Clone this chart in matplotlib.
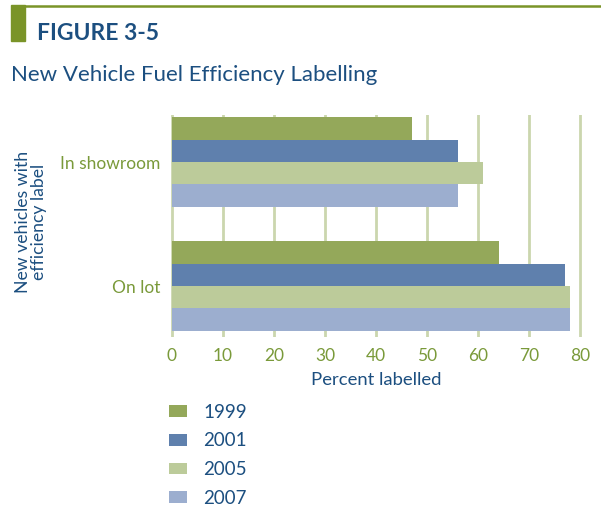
import matplotlib.pyplot as plt
from matplotlib.patches import Rectangle
from matplotlib.lines import Line2D
import numpy as np

categories = ['In showroom', 'On lot']
years = ['1999', '2001', '2005', '2007']
pct_1999 = [47, 64]
pct_2001 = [56, 77]
pct_2005 = [61, 78]
pct_2007 = [56, 78]
xticks = [0, 10, 20, 30, 40, 50, 60, 70, 80]

colors = ['#94a85a', '#5f80ad', '#bccb9a', '#9caecf']
navy = '#1c4f80'
olive = '#7a9a3a'
grid_c = '#cbd6ae'

W, H = 601, 513
fig = plt.figure(figsize=(W / 100, H / 100), dpi=100)

# header: green tab + rule
fig.patches.append(Rectangle((11 / W, 1 - 41 / H), 14 / W, 36 / H,
                             transform=fig.transFigure, color='#7a9428', zorder=0))
fig.lines.append(Line2D([25 / W, 1], [1 - 6 / H, 1 - 6 / H],
                        transform=fig.transFigure, color='#7a9428', lw=1.8))
fig.text(37 / W, 1 - 34 / H, 'FIGURE 3-5', color=navy, fontsize=16.5,
         fontweight='bold', family='Lato', va='center', ha='left')
fig.text(11 / W, 1 - 75 / H, 'New Vehicle Fuel Efficiency Labelling', color=navy,
         fontsize=16, family='Lato', va='center', ha='left')

left, right, top, bottom = 170, 582, 115, 337
ax = fig.add_axes([left / W, 1 - bottom / H, (right - left) / W, (bottom - top) / H])

y = np.arange(len(categories))
h = 0.18
series = [pct_1999, pct_2001, pct_2005, pct_2007]
for i, (vals, c, yr) in enumerate(zip(series, colors, years)):
    ax.barh(y - 1.5 * h + i * h, vals, height=h, color=c, label=yr, zorder=2)

ax.set_xlim(-0.3, 80.3)
ax.set_ylim(1.411, -0.379)
ax.set_xticks(xticks)
for xv in xticks:
    ax.axvline(xv, color=grid_c, lw=2, zorder=1)
for s in ax.spines.values():
    s.set_visible(False)
ax.tick_params(axis='x', length=0, pad=8, labelcolor=olive, labelsize=12.5)
ax.tick_params(axis='y', length=0, pad=7, labelcolor=olive, labelsize=12.5)
for lab in ax.get_xticklabels() + ax.get_yticklabels():
    lab.set_family('Lato')
ax.set_yticks(y)
ax.set_yticklabels(categories)
ax.set_xlabel('Percent labelled', color=navy, fontsize=13.3, family='Lato', labelpad=6)

fig.text(31 / W, 1 - 222 / H, 'New vehicles with\nefficiency label', color=navy,
         fontsize=12.7, family='Lato', rotation=90, ha='center', va='center',
         linespacing=1.05)

handles, labels = ax.get_legend_handles_labels()
leg = fig.legend(handles, labels, loc='upper left', bbox_to_anchor=(161 / W, 1 - 396 / H),
                 frameon=False, handlelength=1.0, handleheight=0.6, handletextpad=0.85,
                 labelspacing=0.63, borderaxespad=0, prop={'family': 'Lato', 'size': 13.5})
for t in leg.get_texts():
    t.set_color(navy)

fig.savefig('out.png', dpi=100)
